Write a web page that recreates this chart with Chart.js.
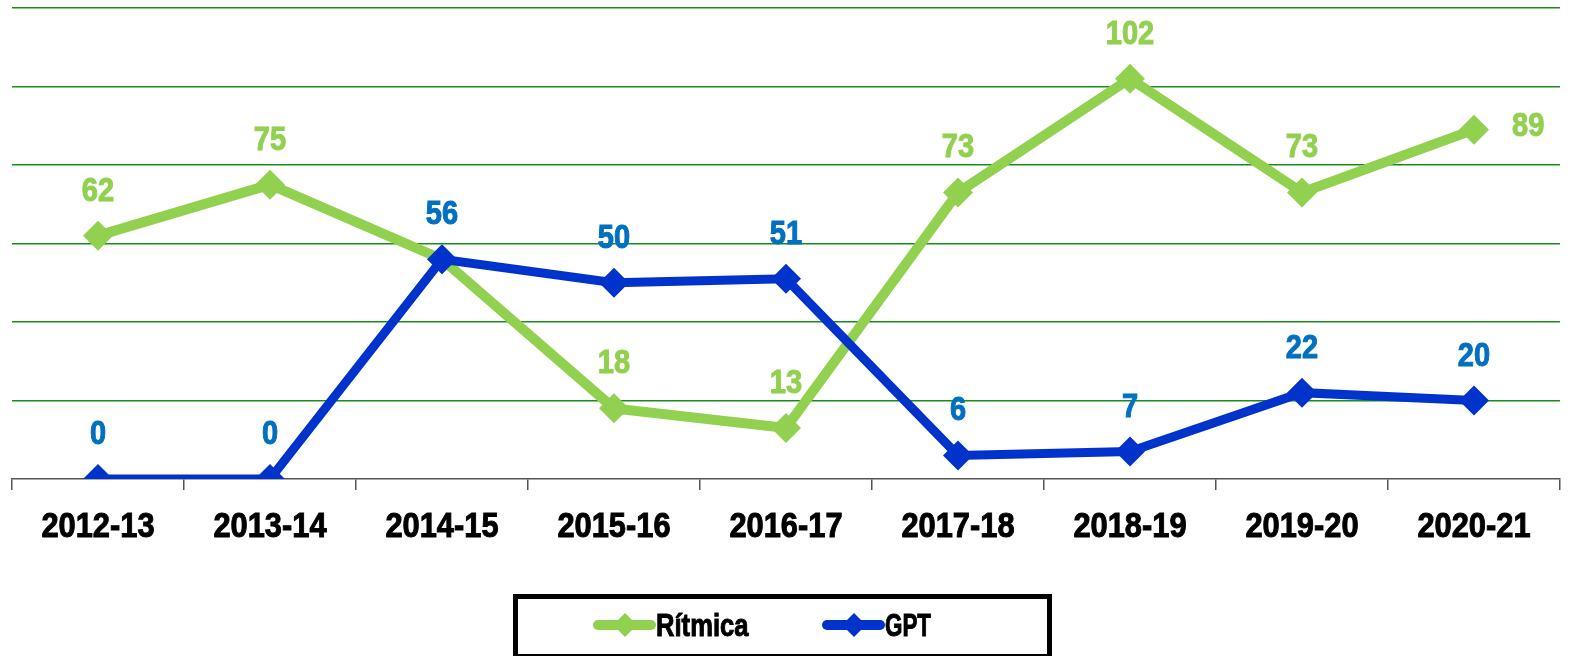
<!DOCTYPE html>
<html>
<head>
<meta charset="utf-8">
<script src="https://cdn.jsdelivr.net/npm/chart.js@4.4.1/dist/chart.umd.min.js"></script>
<style>
  html, body { margin: 0; padding: 0; background: #fff; }
  #wrap { width: 1573px; height: 656px; }
</style>
</head>
<body>
<div id="wrap"><canvas id="lineChart" width="1573" height="656"></canvas></div>
<script>
// Data
const seasons = ['2012-13', '2013-14', '2014-15', '2015-16', '2016-17', '2017-18', '2018-19', '2019-20', '2020-21']
const ritmica = [62, 75, 56, 18, 13, 73, 102, 73, 89]
const gpt = [0, 0, 56, 50, 51, 6, 7, 22, 20]

const FONT = '"Liberation Sans", Arial, sans-serif'

// condensed, slightly heavier text (no narrow font installed)
function narrowText(ctx, text, x, y, sx) {
    ctx.save()
    ctx.translate(x, y)
    ctx.scale(sx, 1)
    ctx.lineWidth = 1
    ctx.strokeStyle = ctx.fillStyle
    ctx.fillText(text, 0, 0)
    ctx.strokeText(text, 0, 0)
    ctx.restore()
}

// Labels over the points + category labels
const pointLabels = {
    id: 'pointLabels',
    afterDatasetsDraw(chart, args, opts) {
        const ctx = chart.ctx
        ctx.save()
        ctx.font = 'bold 33px ' + FONT
        ctx.textBaseline = 'alphabetic'
        chart.data.datasets.forEach((dataset, i) => {
            const meta = chart.getDatasetMeta(i)
            const hide = (opts.hide[i] || [])
            const right = (opts.right[i] || [])
            meta.data.forEach((pt, j) => {
                if (hide.includes(j)) return
                ctx.fillStyle = dataset.labelColor
                if (right.includes(j)) {
                    ctx.textAlign = 'left'
                    narrowText(ctx, dataset.data[j], pt.x + 38, pt.y + 6, 0.88)
                } else {
                    ctx.textAlign = 'center'
                    narrowText(ctx, dataset.data[j], pt.x, pt.y - 35, 0.88)
                }
            })
        })

        // x axis labels
        const xScale = chart.scales.x
        ctx.font = 'bold 35px ' + FONT
        ctx.fillStyle = '#000'
        ctx.textAlign = 'center'
        chart.data.labels.forEach((lab, j) => {
            narrowText(ctx, lab, xScale.getPixelForValue(j), 537, 0.88)
        })
        ctx.restore()
    }
}

// Boxed legend at the bottom
const boxLegend = {
    id: 'boxLegend',
    afterDraw(chart) {
        const ctx = chart.ctx
        ctx.save()
        ctx.lineWidth = 5
        ctx.strokeStyle = '#000'
        ctx.strokeRect(515.5, 596.5, 534, 60)

        const items = [{x: 598}, {x: 827}]
        ctx.font = 'bold 32px ' + FONT
        ctx.textBaseline = 'alphabetic'
        ctx.textAlign = 'left'
        chart.data.datasets.forEach((dataset, i) => {
            const x0 = items[i].x
            const y = 625
            ctx.strokeStyle = dataset.borderColor
            ctx.lineWidth = 10
            ctx.lineCap = 'round'
            ctx.beginPath()
            ctx.moveTo(x0, y)
            ctx.lineTo(x0 + 53, y)
            ctx.stroke()
            ctx.fillStyle = dataset.borderColor
            ctx.beginPath()
            ctx.moveTo(x0 + 27, y - 12)
            ctx.lineTo(x0 + 39, y)
            ctx.lineTo(x0 + 27, y + 12)
            ctx.lineTo(x0 + 15, y)
            ctx.closePath()
            ctx.fill()
            ctx.fillStyle = '#000'
            narrowText(ctx, dataset.label, x0 + 58, y + 11, i === 0 ? 0.8 : 0.7)
        })
        ctx.restore()
    }
}

const data = {
    labels: seasons,
    datasets: [{
        label: 'Rítmica',
        data: ritmica,
        borderColor: '#92D050',
        backgroundColor: '#92D050',
        labelColor: '#92D050',
        borderWidth: 10,
        pointStyle: 'rectRot',
        pointRadius: 15,
        pointBorderWidth: 0,
        order: 1
    },
    {
        label: 'GPT',
        data: gpt,
        borderColor: '#0033CC',
        backgroundColor: '#0033CC',
        labelColor: '#0070C0',
        borderWidth: 9,
        pointStyle: 'rectRot',
        pointRadius: 15,
        pointBorderWidth: 0,
        order: 0
    }]
}

const config = {
    type: 'line',
    data,
    plugins: [pointLabels, boxLegend],
    options: {
        responsive: false,
        animation: false,
        layout: {
            autoPadding: false,
            padding: {left: 12, right: 13, top: 8, bottom: 0}
        },
        scales: {
            x: {
                offset: true,
                grid: {
                    offset: true,
                    drawOnChartArea: false,
                    drawTicks: true,
                    tickLength: 11,
                    color: '#555',
                    lineWidth: 1.5
                },
                border: {
                    display: true,
                    color: '#555',
                    width: 1.5
                },
                ticks: {
                    color: 'rgba(0,0,0,0)',
                    padding: 12,
                    font: {family: FONT, size: 35, weight: 'bold'}
                },
                afterFit(scale) { scale.height = 656 - 479 }
            },
            y: {
                min: 0,
                max: 120,
                grid: {
                    drawTicks: false,
                    color: ctx => ctx.tick.value === 0 ? 'rgba(0,0,0,0)' : '#1A8C1A',
                    lineWidth: 1.5
                },
                border: {display: false},
                ticks: {display: false, stepSize: 20},
                afterFit(scale) { scale.width = 0 }
            }
        },
        plugins: {
            legend: {display: false},
            tooltip: {enabled: false},
            pointLabels: {
                hide: {0: [2]},
                right: {0: [8]}
            }
        }
    }
}

const myChart = new Chart(document.getElementById('lineChart'), config)
</script>
</body>
</html>
